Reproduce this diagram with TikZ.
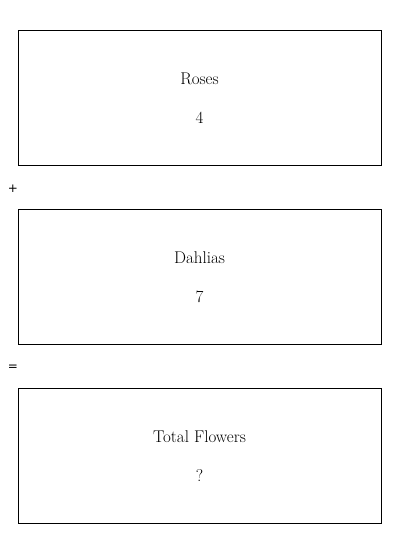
\documentclass[tikz,border=0pt]{standalone}
\usepackage{fontspec}
\newfontfamily\signfont{DejaVu Sans}
\begin{document}
\begin{tikzpicture}[x=1pt, y=-1pt,
    panel/.style={draw, line width=0.8pt, minimum width=363pt, minimum height=135pt, inner sep=0pt},
    word/.style={font=\fontsize{17}{20}\selectfont},
    sign/.style={font=\signfont\fontsize{12}{14}\selectfont}]
            \useasboundingbox (0,0) rectangle (400,534);
            % Boxes
            \node[panel] (roses) at (199.5,97.5) {};
            \node[panel] (dahlias) at (199.5,276.5) {};
            \node[panel] (total) at (199.5,455.5) {};
            % Labels and values
            \node[word] (rosesname) at (199.5,79) {Roses};
            \node[word] (rosesval) at (199.5,118) {4};
            \node[word] (dahliasname) at (199.5,258) {Dahlias};
            \node[word] (dahliasval) at (199.5,297) {7};
            \node[word] (totalname) at (199.5,437) {Total Flowers};
            \node[word] (totalval) at (199.5,476) {?};
            % Operators
            \node[sign] (plus) at (13,189) {+};
            \node[sign] (equals) at (13,368) {=};
        \end{tikzpicture}
\end{document}
